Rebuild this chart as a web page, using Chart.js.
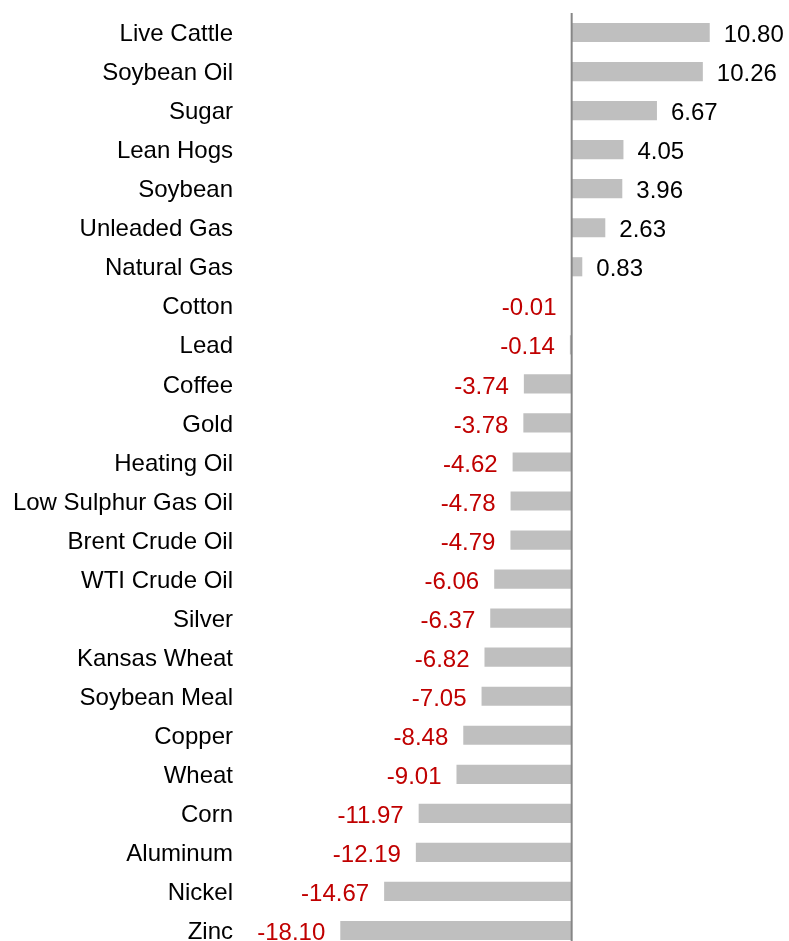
<!DOCTYPE html>
<html>
<head>
<meta charset="utf-8">
<script src="https://cdn.jsdelivr.net/npm/chart.js@4/dist/chart.umd.min.js"></script>
<style>
  html, body { margin: 0; padding: 0; background: #ffffff; overflow: hidden; }
  #wrap { width: 789px; height: 941px; overflow: hidden; }
  canvas { display: block; }
</style>
</head>
<body>
<div id="wrap"><canvas id="chart" width="789" height="950"></canvas></div>
<script>
// Commodity returns (%), sorted from best to worst
const commodities = [
  'Live Cattle', 'Soybean Oil', 'Sugar', 'Lean Hogs', 'Soybean', 'Unleaded Gas',
  'Natural Gas', 'Cotton', 'Lead', 'Coffee', 'Gold', 'Heating Oil',
  'Low Sulphur Gas Oil', 'Brent Crude Oil', 'WTI Crude Oil', 'Silver',
  'Kansas Wheat', 'Soybean Meal', 'Copper', 'Wheat', 'Corn', 'Aluminum',
  'Nickel', 'Zinc'
];
const returns = [
  10.80, 10.26, 6.67, 4.05, 3.96, 2.63,
  0.83, -0.01, -0.14, -3.74, -3.78, -4.62,
  -4.78, -4.79, -6.06, -6.37,
  -6.82, -7.05, -8.48, -9.01, -11.97, -12.19,
  -14.67, -18.10
];

const FONT_FAMILY = "Arial, 'Liberation Sans', sans-serif";

// Vertical line at zero
const zeroLine = {
  id: 'zeroLine',
  afterDatasetsDraw(chart) {
    const { ctx, chartArea, scales } = chart;
    const x = scales.x.getPixelForValue(0);
    ctx.save();
    ctx.strokeStyle = '#868686';
    ctx.lineWidth = 2;
    ctx.beginPath();
    ctx.moveTo(x, chartArea.top);
    ctx.lineTo(x, chartArea.bottom);
    ctx.stroke();
    ctx.restore();
  }
};

// Value labels at the end of each bar
const valueLabels = {
  id: 'valueLabels',
  afterDatasetsDraw(chart) {
    const { ctx } = chart;
    const meta = chart.getDatasetMeta(0);
    const values = chart.data.datasets[0].data;
    ctx.save();
    ctx.font = '24px ' + FONT_FAMILY;
    ctx.textBaseline = 'middle';
    meta.data.forEach((bar, i) => {
      const v = values[i];
      const text = v.toFixed(2);
      if (v >= 0) {
        ctx.fillStyle = '#000000';
        ctx.textAlign = 'left';
        ctx.fillText(text, bar.x + 14, bar.y + 3);
      } else {
        ctx.fillStyle = '#c00000';
        ctx.textAlign = 'right';
        ctx.fillText(text, bar.x - 15, bar.y + 3);
      }
    });
    ctx.restore();
  }
};

new Chart(document.getElementById('chart'), {
  type: 'bar',
  data: {
    labels: commodities,
    datasets: [{
      data: returns,
      backgroundColor: '#bfbfbf',
      borderWidth: 0,
      barPercentage: 0.49,
      categoryPercentage: 1
    }]
  },
  options: {
    indexAxis: 'y',
    responsive: false,
    animation: false,
    devicePixelRatio: 1,
    layout: { padding: { top: 13, right: 0, bottom: 0, left: 0 } },
    plugins: {
      legend: { display: false },
      tooltip: { enabled: false }
    },
    scales: {
      x: {
        display: false,
        min: -20,
        max: 17
      },
      y: {
        grid: { display: false, drawTicks: false },
        border: { display: false },
        ticks: {
          color: '#000000',
          font: { size: 24, family: FONT_FAMILY },
          padding: 83,
          labelOffset: 2,
          autoSkip: false
        },
        afterFit(scale) {
          scale.width = 316;
          scale.paddingTop = 0;
          scale.paddingBottom = 0;
        }
      }
    }
  },
  plugins: [zeroLine, valueLabels]
});
</script>
</body>
</html>
